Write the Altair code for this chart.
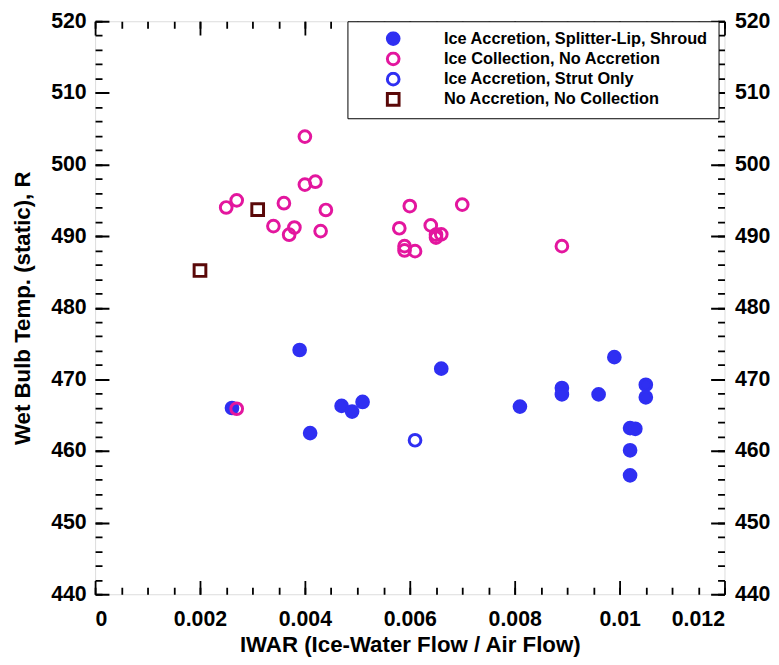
import altair as alt
import pandas as pd

# ---- data ----
cat_names = [
    "Ice Accretion, Splitter-Lip, Shroud",
    "Ice Collection, No Accretion",
    "Ice Accretion, Strut Only",
    "No Accretion, No Collection",
]

shroud_x = [0.00261, 0.0039, 0.0041, 0.0047, 0.0049, 0.0051, 0.0066, 0.0081,
            0.0089, 0.0089, 0.0096, 0.0099, 0.0105, 0.0105, 0.0102, 0.0103,
            0.0102, 0.0102]
shroud_y = [466.0, 474.1, 462.5, 466.3, 465.5, 466.85, 471.5, 466.2,
            468.8, 467.9, 467.9, 473.1, 469.25, 467.5, 463.2, 463.1,
            460.1, 456.6]

collect_x = [0.0040, 0.0040, 0.0042, 0.0025, 0.0027, 0.0036, 0.0034, 0.0038,
             0.0037, 0.0044, 0.0043, 0.0060, 0.0058, 0.0064, 0.0065, 0.0066,
             0.0065, 0.0059, 0.0059, 0.0061, 0.0070, 0.0089, 0.0027]
collect_y = [503.9, 497.2, 497.6, 494.0, 495.0, 494.6, 491.4, 491.2,
             490.2, 493.65, 490.7, 494.2, 491.1, 491.5, 490.2, 490.25,
             489.8, 488.6, 488.0, 487.9, 494.4, 488.6, 465.9]

strut_x = [0.0061]
strut_y = [461.5]

none_x = [0.0031, 0.0020]
none_y = [493.7, 485.2]

x_major = [0, 0.002, 0.004, 0.006, 0.008, 0.01, 0.012]
x_minor = [round(i * 0.0005, 4) for i in range(25)]
y_major = [440, 450, 460, 470, 480, 490, 500, 510, 520]
y_minor = list(range(440, 521, 2))

colors = ["#2f2ff2", "#e3169e", "#2f2ff2", "#5a0808"]
fills = ["#2f2ff2", "transparent", "transparent", "transparent"]
shapes = ["circle", "circle", "circle", "square"]
sizes = [140, 140, 140, 85]

rows = []
for name, xs, ys in [
    (cat_names[0], shroud_x, shroud_y),
    (cat_names[1], collect_x, collect_y),
    (cat_names[2], strut_x, strut_y),
    (cat_names[3], none_x, none_y),
]:
    for xv, yv in zip(xs, ys):
        rows.append({"IWAR": xv, "T": yv, "cat": name})
df = pd.DataFrame(rows)

W, H = 636, 579
FONT = "Liberation Sans"
LBL = 21.5
TTL = 22.5

xscale = alt.Scale(domain=[0, 0.012], nice=False, zero=False)
yscale = alt.Scale(domain=[440, 520], nice=False, zero=False)

major_dash_x = [14, H - 28, 14, 2000]
minor_dash_x = [7, H - 14, 7, 2000]
major_dash_y = [14, W - 28, 14, 2000]
minor_dash_y = [7, W - 14, 7, 2000]

common_axis = dict(domain=False, ticks=False, grid=True, gridColor="black",
                   gridWidth=1.8, gridOpacity=1)

LEG = dict(title=None, orient="none", legendX=255, legendY=0)

points = alt.Chart(df).mark_point(filled=False, strokeWidth=3, opacity=1).encode(
    x=alt.X("IWAR:Q", scale=xscale,
            axis=alt.Axis(orient="bottom", values=x_major, format="~g",
                          title="IWAR (Ice-Water Flow / Air Flow)",
                          labelFont=FONT, labelFontSize=LBL, labelFontWeight="bold",
                          labelColor="black", labelPadding=15,
                          titleFont=FONT, titleFontSize=TTL, titleFontWeight="bold",
                          titleColor="black", titlePadding=3,
                          gridDash=major_dash_x, **common_axis)),
    y=alt.Y("T:Q", scale=yscale,
            axis=alt.Axis(orient="left", values=y_major,
                          title="Wet Bulb Temp. (static), R",
                          labelFont=FONT, labelFontSize=LBL, labelFontWeight="bold",
                          labelColor="black", labelPadding=9,
                          titleFont=FONT, titleFontSize=TTL, titleFontWeight="bold",
                          titleColor="black", titlePadding=16,
                          gridDash=major_dash_y, **common_axis)),
    stroke=alt.Stroke("cat:N", scale=alt.Scale(domain=cat_names, range=colors),
                      legend=alt.Legend(strokeColor="black", fillColor="white",
                                        padding=10, rowPadding=3.5, clipHeight=15,
                                        symbolOffset=28, labelOffset=43,
                                        symbolStrokeWidth=3,
                                        labelFont=FONT, labelFontSize=16.5,
                                        labelFontWeight="bold", labelColor="black",
                                        labelLimit=400, **LEG)),
    fill=alt.Fill("cat:N", scale=alt.Scale(domain=cat_names, range=fills),
                  legend=alt.Legend(**LEG)),
    shape=alt.Shape("cat:N", scale=alt.Scale(domain=cat_names, range=shapes),
                    legend=alt.Legend(**LEG)),
    size=alt.Size("cat:N", scale=alt.Scale(domain=cat_names, range=sizes),
                  legend=alt.Legend(**LEG)),
)

minor_layer = alt.Chart(df).mark_point(opacity=0).encode(
    x=alt.X("IWAR:Q", scale=xscale,
            axis=alt.Axis(orient="top", values=x_minor, labels=False, title=None,
                          gridDash=minor_dash_x, **common_axis)),
    y=alt.Y("T:Q", scale=yscale,
            axis=alt.Axis(orient="right", values=y_major, title=None,
                          labelFont=FONT, labelFontSize=LBL, labelFontWeight="bold",
                          labelColor="black", labelPadding=10,
                          domain=False, ticks=False, grid=False)),
)

minor_y_layer = alt.Chart(df).mark_point(opacity=0).encode(
    x=alt.X("IWAR:Q", scale=xscale, axis=None),
    y=alt.Y("T:Q", scale=yscale,
            axis=alt.Axis(orient="left", values=y_minor, labels=False, title=None,
                          gridDash=minor_dash_y, **common_axis)),
)

chart = (
    alt.layer(points, minor_layer, minor_y_layer)
    .resolve_axis(x="independent", y="independent")
    .properties(
        width=W, height=H,
        autosize=alt.AutoSizeParams(type="none"),
        padding={"left": 88, "top": 10, "right": 47, "bottom": 60},
    )
    .configure_view(stroke="black", strokeWidth=2.5)
    .configure(background="white")
)

chart.save("out.html", embed_options={"renderer": "svg", "actions": False})
